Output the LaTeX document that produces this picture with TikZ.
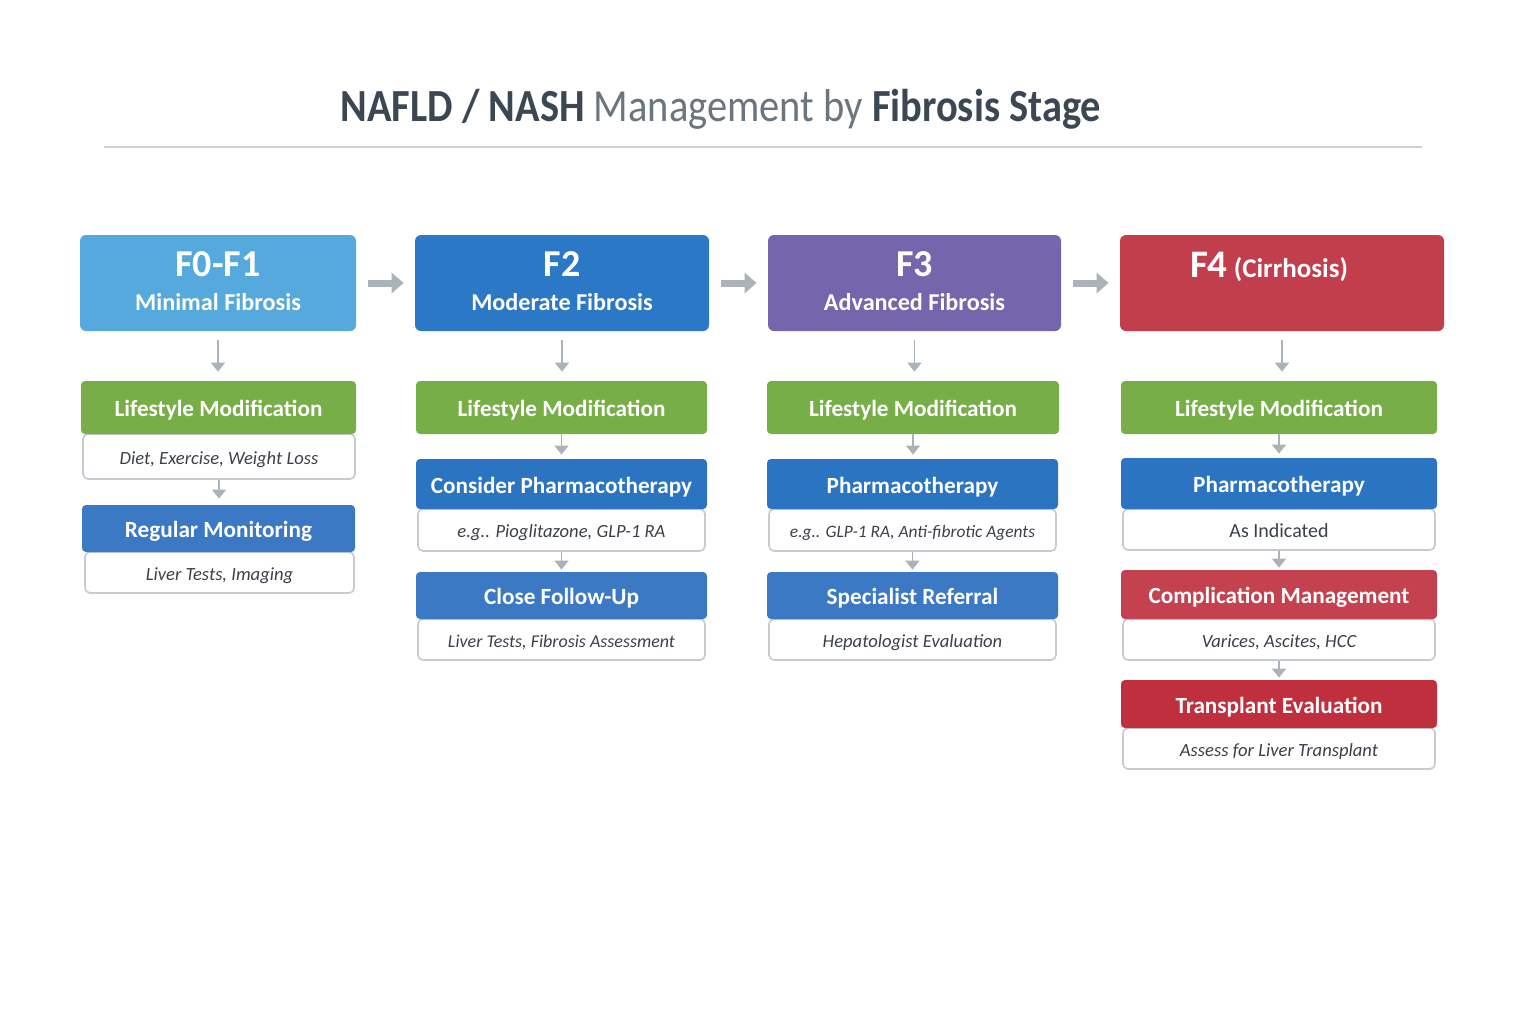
\documentclass[tikz,border=0pt]{standalone}
\usepackage{fontspec}
\setmainfont{Carlito}
\newfontfamily\titlefont[FakeStretch=0.88]{Carlito}
\usepackage{xcolor}
\usetikzlibrary{
	arrows.meta,
	positioning,
	calc
}
\definecolor{TitleDark}{HTML}{3C4754}
\definecolor{TitleLight}{HTML}{6B7580}
\definecolor{RuleGray}{HTML}{C9D1D9}
\definecolor{ArrowGray}{HTML}{AAB2BC}
\definecolor{SubLine}{HTML}{C6CBD2}
\definecolor{SubText}{HTML}{3B4049}
\definecolor{StageSky}{HTML}{55A9DC}
\definecolor{StageBlue}{HTML}{2B78C6}
\definecolor{StagePurple}{HTML}{7565AD}
\definecolor{StageRed}{HTML}{C23E4C}
\definecolor{StepGreen}{HTML}{77AE48}
\definecolor{StepBlue}{HTML}{2A74C2}
\definecolor{StepBlueLight}{HTML}{3C79C4}
\definecolor{StepRed}{HTML}{C4414F}
\definecolor{StepRedDark}{HTML}{BF2F3D}

\begin{document}
\begin{tikzpicture}[x=0.5pt, y=-0.5pt,
		stage/.style={rectangle, rounded corners=3pt, inner sep=0pt, minimum height=48pt, text=white, align=center, text depth=2pt, font=\bfseries\fontsize{12.1}{16}\selectfont},
		stepbox/.style={rectangle, rounded corners=2pt, inner sep=0pt, text=white, text height=9pt, text depth=0pt, font=\bfseries\fontsize{11.6}{14}\selectfont},
		subbox/.style={rectangle, rounded corners=2.5pt, inner sep=0pt, draw=SubLine, line width=0.8pt, fill=white, text=SubText, text height=7.5pt, text depth=0pt, font=\itshape\fontsize{9.3}{12}\selectfont},
		harrow/.style={-{Triangle[length=6pt, width=10pt]}, line width=3.5pt, ArrowGray, shorten <=6pt, shorten >=5.5pt},
		varrow/.style={-{Triangle[length=4.5pt, width=7pt]}, line width=0.8pt, ArrowGray}
	]
		\fill[white] (0,0) rectangle (1536,1024);
		\useasboundingbox (0,0) rectangle (1536,1024);
		
		% title
		\node[anchor=base, font=\titlefont\fontsize{23}{26}\selectfont] (title) at (721,121) {\textcolor{TitleDark}{\bfseries NAFLD / NASH} \textcolor{TitleLight}{Management by} \textcolor{TitleDark}{\bfseries Fibrosis Stage}};
		\draw[RuleGray, line width=0.7pt] (104,147) -- (1422,147);
		
		% stage headers
		\node[stage, fill=StageSky, minimum width=138pt] (hA) at (218,283) {{\fontsize{19}{19}\selectfont F0-F1}\\[1pt] Minimal Fibrosis};
		\node[stage, fill=StageBlue, minimum width=147pt] (hB) at (562,283) {{\fontsize{19}{19}\selectfont F2}\\[1pt] Moderate Fibrosis};
		\node[stage, fill=StagePurple, minimum width=146.5pt] (hC) at (914.5,283) {{\fontsize{19}{19}\selectfont F3}\\[1pt] Advanced Fibrosis};
		\node[stage, fill=StageRed, minimum width=162pt] (hD) at (1282,283) {};
		\node[anchor=base, text=white, font=\bfseries\fontsize{13.5}{15}\selectfont] (hDt) at (1269,277) {{\fontsize{19.5}{19.5}\selectfont F4} (Cirrhosis)};
		
		\foreach \a/\b in {hA/hB, hB/hC, hC/hD}
			\draw[harrow] (\a) -- (\b);
		
		% F0-F1
		\node[subbox, minimum width=136pt, minimum height=22.5pt] (lAs) at (219,456.5) {Diet, Exercise, Weight Loss};
		\node[stepbox, fill=StepGreen, minimum width=137.5pt, minimum height=26.5pt] (lA) at (218.5,407.5) {Lifestyle Modification};
		\node[subbox, minimum width=134.5pt, minimum height=20.5pt] (mAs) at (219.5,572.5) {Liver Tests, Imaging};
		\node[stepbox, fill=StepBlueLight, minimum width=136.5pt, minimum height=23.5pt] (mA) at (218.5,528.5) {Regular Monitoring};
		
		% F2
		\node[stepbox, fill=StepGreen, minimum width=145.5pt, minimum height=26.5pt] (lB) at (561.5,407.5) {Lifestyle Modification};
		\node[subbox, minimum width=143.5pt, minimum height=21pt] (pBs) at (561.5,530) {e.g.. Pioglitazone, GLP-1 RA};
		\node[stepbox, fill=StepBlue, minimum width=145.5pt, minimum height=25pt] (pB) at (561.5,484) {Consider Pharmacotherapy};
		\node[subbox, minimum width=143.5pt, minimum height=20.5pt, font=\itshape\fontsize{9}{12}\selectfont] (fBs) at (561.5,639.5) {Liver Tests, Fibrosis Assessment};
		\node[stepbox, fill=StepBlueLight, minimum width=145.5pt, minimum height=23.5pt] (fB) at (561.5,595.5) {Close Follow-Up};
		
		% F3
		\node[stepbox, fill=StepGreen, minimum width=146pt, minimum height=26.5pt] (lC) at (913,407.5) {Lifestyle Modification};
		\node[subbox, minimum width=143.5pt, minimum height=21pt, font=\itshape\fontsize{8.7}{12}\selectfont] (pCs) at (912.5,530) {e.g.. GLP-1 RA, Anti-fibrotic Agents};
		\node[stepbox, fill=StepBlue, minimum width=145.5pt, minimum height=25pt] (pC) at (912.5,484) {Pharmacotherapy};
		\node[subbox, minimum width=143.5pt, minimum height=20.5pt] (sCs) at (912.5,639.5) {Hepatologist Evaluation};
		\node[stepbox, fill=StepBlueLight, minimum width=145.5pt, minimum height=23.5pt] (sC) at (912.5,595.5) {Specialist Referral};
		
		% F4
		\node[stepbox, fill=StepGreen, minimum width=158pt, minimum height=26.5pt] (lD) at (1279,407.5) {Lifestyle Modification};
		\node[subbox, minimum width=156pt, minimum height=20.5pt, font=\fontsize{10}{12}\selectfont] (pDs) at (1279,529.5) {As Indicated};
		\node[stepbox, fill=StepBlue, minimum width=158pt, minimum height=25.5pt] (pD) at (1279,483.5) {Pharmacotherapy};
		\node[subbox, minimum width=156pt, minimum height=20.5pt] (cDs) at (1279,639.5) {Varices, Ascites, HCC};
		\node[stepbox, fill=StepRed, minimum width=158pt, minimum height=24.5pt] (cD) at (1279,594.5) {Complication Management};
		\node[subbox, minimum width=156pt, minimum height=20.5pt] (tDs) at (1279,748.5) {Assess for Liver Transplant};
		\node[stepbox, fill=StepRedDark, minimum width=158pt, minimum height=24pt] (tD) at (1279,704) {Transplant Evaluation};
		
		% stage -> lifestyle
		\draw[varrow, shorten <=4.5pt, shorten >=4.5pt] (hA.south) -- (hA.south |- lA.north);
		\draw[varrow, shorten <=4.5pt, shorten >=4.5pt] (hB.south) -- (hB.south |- lB.north);
		\draw[varrow, shorten <=4.5pt, shorten >=4.5pt] (hC.south) -- (hC.south |- lC.north);
		\draw[varrow, shorten <=4.5pt, shorten >=4.5pt] (hD.south) -- (hD.south |- lD.north);
		
		% steps
		\draw[varrow, shorten >=3pt] (lAs.south) -- (lAs.south |- mA.north);
		\draw[varrow, shorten >=2pt] (lB.south) -- (lB.south |- pB.north);
		\draw[varrow, shorten >=1pt] (pBs.south) -- (pBs.south |- fB.north);
		\draw[varrow, shorten >=2pt] (lC.south) -- (lC.south |- pC.north);
		\draw[varrow, shorten >=1pt] (pCs.south) -- (pCs.south |- sC.north);
		\draw[varrow, shorten >=2pt] (lD.south) -- (lD.south |- pD.north);
		\draw[varrow, shorten >=1pt] (pDs.south) -- (pDs.south |- cD.north);
		\draw[varrow, shorten >=1pt] (cDs.south) -- (cDs.south |- tD.north);
	\end{tikzpicture}
\end{document}
